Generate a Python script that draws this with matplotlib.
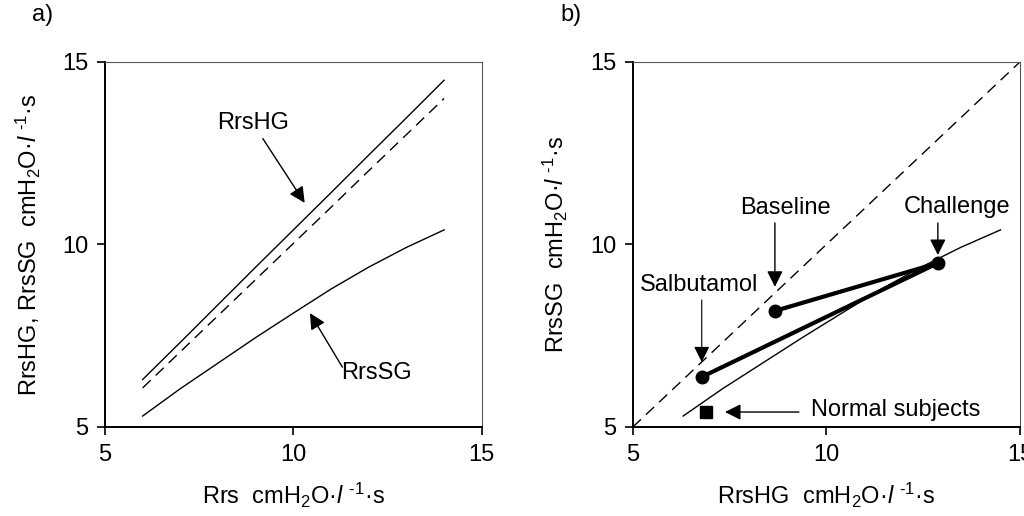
import matplotlib
matplotlib.use("Agg")
import matplotlib.pyplot as plt

plt.rcParams["font.family"] = ["Liberation Sans", "DejaVu Sans"]
plt.rcParams["mathtext.fontset"] = "custom"
plt.rcParams["mathtext.rm"] = "Liberation Sans"
plt.rcParams["mathtext.it"] = "Liberation Sans:italic"

# panel a: model curves
rrs = [6, 7, 8, 9, 10, 11, 12, 13, 14]
rrs_hg = [6.3, 7.32, 8.35, 9.38, 10.4, 11.42, 12.45, 13.47, 14.5]
rrs_sg = [5.3, 6.05, 6.75, 7.45, 8.12, 8.78, 9.38, 9.92, 10.4]
identity_a = [6.07, 7.06, 8.05, 9.04, 10.03, 11.02, 12.02, 13.01, 14.0]

# panel b: patient data
stage_names = ["Baseline", "Challenge", "Salbutamol"]
stage_hg = [8.67, 12.88, 6.78]
stage_sg = [8.18, 9.49, 6.37]
normal_hg = [6.89]
normal_sg = [5.41]
identity_b = [5, 15]

UNIT = r"cmH$_2$O·$\mathit{l}$ $^{\text{-1}}$·s"
DASH = (0, (8, 5))

fig = plt.figure(figsize=(10.24, 5.16), dpi=100)
ax1 = fig.add_axes([0.1025, 0.1725, 0.368, 0.7074])
ax2 = fig.add_axes([0.618, 0.1725, 0.378, 0.7074])

for ax in (ax1, ax2):
    ax.set_xlim(5, 15)
    ax.set_ylim(5, 15)
    ax.set_xticks([5, 10, 15])
    ax.set_yticks([5, 10, 15])
    ax.tick_params(direction="out", length=6, width=1.2, labelsize=17, pad=6)
    for side in ("left", "bottom"):
        ax.spines[side].set_linewidth(1.4)
    for side in ("top", "right"):
        ax.spines[side].set_linewidth(0.8)
        ax.spines[side].set_color("#555555")

# ---- panel a
ax1.plot(rrs, rrs_hg, color="black", lw=1.0)
ax1.plot(rrs, identity_a, color="black", lw=1.0, ls=DASH)
ax1.plot(rrs, rrs_sg, color="black", lw=1.0)

arrow = dict(arrowstyle="-|>", color="black", lw=1.0, mutation_scale=24, shrinkA=0, shrinkB=0)
ax1.annotate("", xy=(10.3, 11.14), xytext=(9.19, 12.9), arrowprops=arrow)
ax1.text(8.93, 13.33, "RrsHG", fontsize=17, ha="center", va="center")
ax1.annotate("", xy=(10.44, 8.12), xytext=(11.3, 6.64), arrowprops=arrow)
ax1.text(12.2, 6.48, "RrsSG", fontsize=17, ha="center", va="center")

ax1.set_xlabel("Rrs  " + UNIT, fontsize=17, labelpad=11)
ax1.set_ylabel("RrsHG, RrsSG  " + UNIT, fontsize=17, labelpad=14)

# ---- panel b
ax2.plot(identity_b, identity_b, color="black", lw=1.0, ls=DASH)
ax2.plot(rrs_hg, rrs_sg, color="black", lw=1.0)
ax2.plot(stage_hg, stage_sg, color="black", lw=3.0, marker="o", ms=9)
ax2.plot(normal_hg, normal_sg, color="black", ls="none", marker="s", ms=9)

ax2.annotate("", xy=(stage_hg[0], 8.84), xytext=(stage_hg[0], 10.59), arrowprops=arrow)
ax2.text(8.93, 11.0, stage_names[0], fontsize=17, ha="center", va="center")
ax2.annotate("", xy=(stage_hg[1], 9.71), xytext=(stage_hg[1], 10.59), arrowprops=arrow)
ax2.text(13.37, 11.03, stage_names[1], fontsize=17, ha="center", va="center")
ax2.annotate("", xy=(stage_hg[2], 6.78), xytext=(stage_hg[2], 8.48),
             arrowprops=dict(arrow, lw=0.8))
ax2.text(6.71, 8.89, stage_names[2], fontsize=17, ha="center", va="center")
ax2.annotate("", xy=(7.38, 5.41), xytext=(9.29, 5.41), arrowprops=arrow)
ax2.text(9.6, 5.47, "Normal subjects", fontsize=17, ha="left", va="center")

ax2.set_xlabel("RrsHG  " + UNIT, fontsize=17, labelpad=11)
ax2.set_ylabel("RrsSG  " + UNIT, fontsize=17, labelpad=14)

fig.text(0.042, 0.97, "a)", fontsize=17, ha="center", va="center")
fig.text(0.558, 0.97, "b)", fontsize=17, ha="center", va="center")

fig.savefig("out.png", dpi=100)
